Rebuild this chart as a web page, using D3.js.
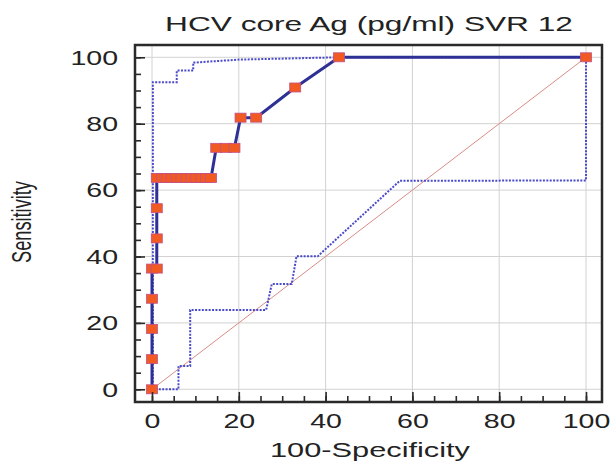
<!DOCTYPE html>
<html>
<head>
<meta charset="utf-8">
<script src="https://cdn.jsdelivr.net/npm/d3@7"></script>
<style>
  body { margin: 0; background: #fff; }
  svg { display: block; font-family: "Liberation Sans", Arial, sans-serif; }
</style>
</head>
<body>
<div id="chart"></div>
<script>
// ROC curve points (100-Specificity, Sensitivity)
const rocFpr = [0, 0, 0, 0, 0, 1.1, 1.1, 1.1, 1.1,
    2.3, 3.4, 4.5, 5.7, 6.8, 8.0, 9.1, 10.2, 11.4, 12.5, 13.6,
    14.8, 17.0, 19.0, 20.4, 24.0, 33.0, 43.1, 100];
const rocSens = [0, 9.09, 18.18, 27.27, 36.36, 36.36, 45.45, 54.55, 63.64,
    63.64, 63.64, 63.64, 63.64, 63.64, 63.64, 63.64, 63.64, 63.64, 63.64, 63.64,
    72.73, 72.73, 72.73, 81.82, 81.82, 90.91, 100, 100];

// 95% confidence bounds
const upperFpr = [0.2, 0.2, 5.7, 5.7, 9.5, 9.5, 20, 43, 100];
const upperSens = [0, 92.5, 92.5, 96, 96, 98.4, 99.3, 100, 100];
const lowerFpr = [0, 6.1, 6.1, 8.8, 8.8, 26.3, 27.6, 32.2, 33.3, 38.2, 57.1, 100, 100];
const lowerSens = [0, 0, 7.0, 7.0, 23.9, 23.9, 31.7, 31.7, 40.1, 40.1, 62.8, 62.9, 100];

// Axis ticks
const xTicks = [0, 20, 40, 60, 80, 100];
const yTicks = [0, 20, 40, 60, 80, 100];
const minorTicks = d3.range(0, 101, 5);

const width = 613, height = 472;
const frame = { left: 135, top: 45, right: 602, bottom: 402 };

const svg = d3.select("#chart").append("svg")
    .attr("width", width)
    .attr("height", height);

const x = d3.scaleLinear().domain([0, 100]).range([152, 586]);
const y = d3.scaleLinear().domain([0, 100]).range([389.3, 57.3]);

// gridlines
svg.append("g")
    .selectAll("line.vgrid")
    .data(xTicks)
    .join("line")
    .attr("x1", d => x(d)).attr("x2", d => x(d))
    .attr("y1", frame.top).attr("y2", frame.bottom)
    .style("stroke", "#d2d2d2").style("stroke-width", 1);

svg.append("g")
    .selectAll("line.hgrid")
    .data(yTicks)
    .join("line")
    .attr("x1", frame.left).attr("x2", frame.right)
    .attr("y1", d => y(d)).attr("y2", d => y(d))
    .style("stroke", "#d2d2d2").style("stroke-width", 1);

// diagonal reference line
svg.append("line")
    .attr("x1", x(0)).attr("y1", y(0))
    .attr("x2", x(100)).attr("y2", y(100))
    .style("stroke", "#d98c84")
    .style("stroke-width", 1);

const line = d3.line().x(d => x(d[0])).y(d => y(d[1]));
const zip = (a, b) => a.map((v, i) => [v, b[i]]);

// confidence bounds
[zip(upperFpr, upperSens), zip(lowerFpr, lowerSens)].forEach(pts => {
    svg.append("path")
        .datum(pts)
        .attr("d", line)
        .style("fill", "none")
        .style("stroke", "#4a4acb")
        .style("stroke-width", 2)
        .style("stroke-dasharray", "2,1.4");
});

// ROC curve
const roc = zip(rocFpr, rocSens);
svg.append("path")
    .datum(roc)
    .attr("d", line)
    .style("fill", "none")
    .style("stroke", "#2e3095")
    .style("stroke-width", 3);

svg.append("g")
    .selectAll("rect")
    .data(roc)
    .join("rect")
    .attr("x", d => x(d[0]) - 5.5)
    .attr("y", d => y(d[1]) - 4.5)
    .attr("width", 11)
    .attr("height", 9)
    .style("fill", "#f15a22")
    .style("stroke", "#c2508a")
    .style("stroke-width", 0.8);

// axes (ticks point inward, labels stretched like the source)
const stretchX = 1.36;

const xAxis = svg.append("g")
    .attr("transform", `translate(0,${frame.bottom})`)
    .call(d3.axisBottom(x).tickValues(xTicks).tickSize(-10).tickPadding(11.4));
const xMinor = svg.append("g")
    .attr("transform", `translate(0,${frame.bottom})`)
    .call(d3.axisBottom(x).tickValues(minorTicks).tickSize(-6).tickFormat(""));

const yAxis = svg.append("g")
    .attr("transform", `translate(${frame.left},0)`)
    .call(d3.axisLeft(y).tickValues(yTicks).tickSize(-10).tickPadding(12.5));
const yMinor = svg.append("g")
    .attr("transform", `translate(${frame.left},0)`)
    .call(d3.axisLeft(y).tickValues(minorTicks).tickSize(-6).tickFormat(""));

[xAxis, xMinor, yAxis, yMinor].forEach(g => {
    g.select(".domain").remove();
    g.selectAll(".tick line").style("stroke", "#2a2a2a").style("stroke-width", 1.6);
    g.selectAll(".tick text")
        .style("font-family", "'Liberation Sans', Arial, sans-serif")
        .style("font-size", "21px")
        .style("fill", "#222")
        .attr("transform", `scale(${stretchX},1)`);
});

// frame
svg.append("rect")
    .attr("x", frame.left).attr("y", frame.top)
    .attr("width", frame.right - frame.left)
    .attr("height", frame.bottom - frame.top)
    .style("fill", "none")
    .style("stroke", "#2a2a2a")
    .style("stroke-width", 2.5);

// text fitted to the stretched look of the source image
function fitText(str, cx, cy, targetLen, sy, rot) {
    const t = svg.append("text")
        .attr("text-anchor", "middle")
        .style("font-size", "21px")
        .style("fill", "#222")
        .text(str);
    const len = t.node().getComputedTextLength();
    t.attr("transform", `translate(${cx},${cy}) rotate(${rot}) scale(${targetLen / len},${sy})`);
    return t;
}

fitText("HCV core Ag (pg/ml) SVR 12", 369, 31, 408, 1, 0);
fitText("100-Specificity", 370, 457, 200, 1, 0);
fitText("Sensitivity", 31, 222, 82, 1.3, -90);
</script>
</body>
</html>
